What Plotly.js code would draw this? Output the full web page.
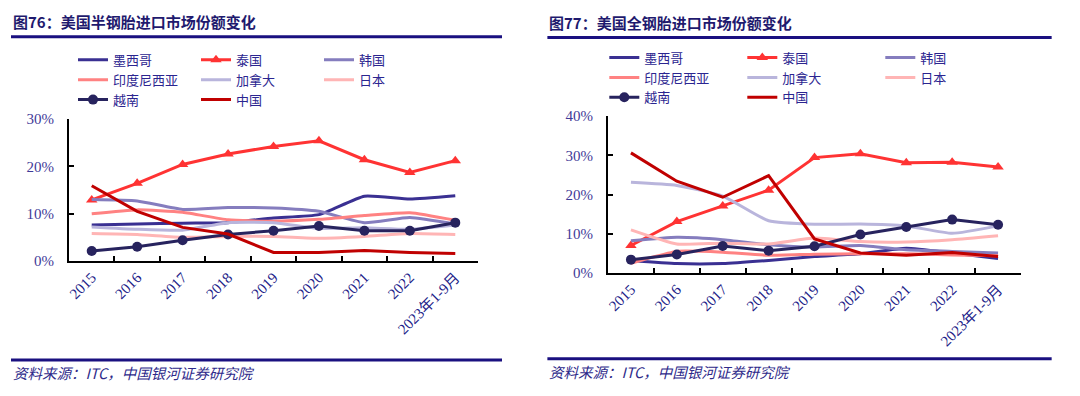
<!DOCTYPE html>
<html><head><meta charset="utf-8">
<script src="https://cdn.plot.ly/plotly-3.0.1.min.js"></script>
<style>body{margin:0;background:#fff;width:1080px;height:396px;overflow:hidden}
#c1{position:absolute;left:0;top:0;width:540px;height:396px}
#c2{position:absolute;left:540px;top:0;width:540px;height:396px}</style>
</head><body><div id="c1"></div><div id="c2"></div>
<script>
const categories = ['2015','2016','2017','2018','2019','2020','2021','2022','2023年1-9月'];
const seriesNames = ['墨西哥','泰国','韩国','印度尼西亚','加拿大','日本','越南','中国'];

// 图76 半钢胎 (%)
const semiMexico    = [7.6, 7.8, 8.0, 8.1, 9.1, 9.8, 13.7, 13.1, 13.8];
const semiThailand  = [12.9, 16.4, 20.4, 22.6, 24.2, 25.4, 21.4, 18.7, 21.2];
const semiKorea     = [13.0, 12.7, 10.9, 11.3, 11.2, 10.5, 8.1, 9.2, 7.8];
const semiIndonesia = [10.0, 10.8, 10.3, 8.7, 8.4, 8.8, 9.6, 10.2, 8.6];
const semiCanada    = [7.2, 6.7, 6.5, 8.1, 8.1, 6.9, 7.0, 6.7, 7.6];
const semiJapan     = [5.8, 5.6, 5.0, 5.2, 5.2, 4.8, 5.2, 5.8, 5.6];
const semiVietnam   = [2.1, 3.0, 4.4, 5.6, 6.4, 7.4, 6.4, 6.4, 8.1];
const semiChina     = [15.9, 10.5, 7.1, 5.7, 1.8, 1.8, 2.2, 1.8, 1.6];

// 图77 全钢胎 (%)
const allMexico    = [3.2, 2.4, 2.4, 3.2, 4.2, 4.9, 6.3, 5.1, 3.7];
const allThailand  = [7.0, 13.1, 17.1, 21.1, 29.4, 30.4, 28.1, 28.2, 27.0];
const allKorea     = [8.2, 9.1, 8.5, 7.2, 6.6, 7.0, 5.9, 5.5, 5.1];
const allIndonesia = [2.5, 5.5, 5.3, 4.5, 4.8, 4.9, 4.9, 4.6, 4.4];
const allCanada    = [23.1, 22.3, 19.6, 13.3, 12.4, 12.5, 12.0, 10.1, 12.0];
const allJapan     = [11.0, 7.4, 7.6, 7.4, 8.9, 8.0, 7.9, 8.5, 9.5];
const allVietnam   = [3.4, 4.7, 6.9, 5.7, 6.8, 9.8, 11.7, 13.6, 12.3];
const allChina     = [30.6, 23.4, 19.3, 24.8, 8.7, 5.1, 4.5, 5.2, 4.2];

const colors = ['#3A3092','#FF3333','#857DBE','#FF8282','#B9B5DC','#FFB5B5','#27235E','#C00000'];
const NAVY = '#1A1080';
const SERIF = 'Liberation Serif, Noto Sans CJK SC, serif';
const CJK = 'Noto Sans CJK SC, sans-serif';

function makeTraces(vals){
  return vals.map((v,i)=>{
    const t = {x:categories, y:v, name:seriesNames[i], type:'scatter',
      line:{color:colors[i], width:3}, hoverinfo:'skip'};
    if(i===1){ t.mode='lines+markers'; t.marker={symbol:'triangle-up', size:10, color:colors[i]}; }
    else if(i===6){ t.mode='lines+markers'; t.marker={symbol:'circle', size:10, color:colors[i]}; }
    else { t.mode='lines'; }
    if([0,2,3,4,5].includes(i)){ t.line.shape='spline'; t.line.smoothing=0.5; }
    return t;
  });
}

function makeLayout(cfg){
  const W=540,H=396;
  const w = W-cfg.l-cfg.r, h = H-cfg.t-cfg.b;
  const px = x => (x-cfg.l)/w;
  const py = y => (H-cfg.b-y)/h;
  return {
    width:W, height:H, paper_bgcolor:'#fff', plot_bgcolor:'#fff',
    margin:{l:cfg.l, r:cfg.r, t:cfg.t, b:cfg.b, pad:0},
    showlegend:true,
    legend:{orientation:'h', x:px(cfg.legX), xanchor:'left', y:py(cfg.legY), yanchor:'top',
      entrywidth:cfg.entryW, entrywidthmode:'pixels', traceorder:'normal',
      font:{family:CJK, size:13, color:'#2B2590'}, bgcolor:'rgba(0,0,0,0)', tracegroupgap:0},
    xaxis:{type:'category', range:[-0.5,8.5], tickson:'boundaries', ticks:'inside', ticklen:5,
      tickwidth:2, tickcolor:'#000', showline:true, linecolor:'#000', linewidth:2,
      showgrid:false, zeroline:false, tickangle:-45, fixedrange:true,
      tickfont:{family:SERIF, size:15, color:'#221C88'}},
    yaxis:{range:[0,cfg.ymax], dtick:10, ticksuffix:'%', ticks:'inside', ticklen:5,
      tickwidth:2, tickcolor:'#000', showline:true, linecolor:'#000', linewidth:2,
      showgrid:false, zeroline:false, fixedrange:true, ticklabelstandoff:10,
      tickfont:{family:SERIF, size:15, color:'#3F3A98'}},
    shapes:[
      {type:'line', xref:'paper', yref:'paper', x0:px(cfg.lx0), x1:px(cfg.lx1), y0:py(37), y1:py(37), line:{color:NAVY, width:3}},
      {type:'line', xref:'paper', yref:'paper', x0:px(cfg.lx0), x1:px(cfg.lx1), y0:py(359.5), y1:py(359.5), line:{color:NAVY, width:3}}
    ],
    annotations:[
      {text:cfg.title, xref:'paper', yref:'paper', x:px(cfg.lx0), y:py(22), xanchor:'left', yanchor:'middle',
        showarrow:false, font:{family:CJK, size:15, color:'#1F1A6E', weight:'bold'}},
      {text:'<i>资料来源：ITC，中国银河证券研究院</i>', xref:'paper', yref:'paper', x:px(cfg.lx0), y:py(372), xanchor:'left', yanchor:'middle',
        showarrow:false, font:{family:CJK, size:14.5, color:'#2E2A8A'}}
    ]
  };
}

const cfg1 = {l:69, r:62, t:119, b:135.3, ymax:30, legX:73, legY:45, entryW:78, lx0:11, lx1:502,
  title:'图76：美国半钢胎进口市场份额变化'};
const cfg2 = {l:67.7, r:58.7, t:115.7, b:122.7, ymax:40, legX:604, legY:42, entryW:93, lx0:7, lx1:512,
  title:'图77：美国全钢胎进口市场份额变化'};
cfg2.legX -= 540;

Plotly.newPlot('c1', makeTraces([semiMexico,semiThailand,semiKorea,semiIndonesia,semiCanada,semiJapan,semiVietnam,semiChina]), makeLayout(cfg1), {staticPlot:true});
Plotly.newPlot('c2', makeTraces([allMexico,allThailand,allKorea,allIndonesia,allCanada,allJapan,allVietnam,allChina]), makeLayout(cfg2), {staticPlot:true});
</script></body></html>
